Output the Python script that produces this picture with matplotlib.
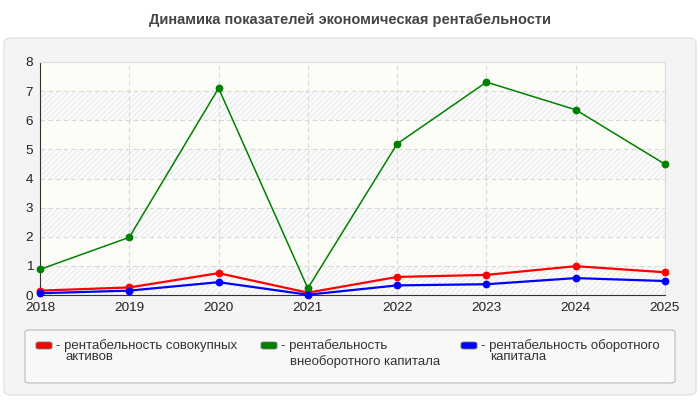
import numpy as np
import matplotlib.pyplot as plt
from matplotlib.patches import FancyBboxPatch

plt.rcParams["font.family"] = ["Liberation Sans", "DejaVu Sans"]
plt.rcParams["hatch.linewidth"] = 0.6

years = [2018, 2019, 2020, 2021, 2022, 2023, 2024, 2025]
assets_total = [0.15, 0.26, 0.75, 0.08, 0.62, 0.69, 0.99, 0.78]
assets_fixed = [0.88, 1.98, 7.10, 0.23, 5.19, 7.31, 6.36, 4.49]
assets_current = [0.06, 0.15, 0.44, 0.01, 0.33, 0.37, 0.58, 0.48]

series = [
    (assets_total, "#ff0000", 1.6, ["- рентабельность совокупных", "активов"]),
    (assets_fixed, "#008000", 1.1, ["- рентабельность", "внеоборотного капитала"]),
    (assets_current, "#0000ff", 1.6, ["- рентабельность оборотного", "капитала"]),
]

W, H = 700, 400
fig = plt.figure(figsize=(7, 4), dpi=100, facecolor="white")

# outer grey panel (behind the axes)
fig.patches.append(FancyBboxPatch((4 / W, 5 / H), 692 / W, 357 / H,
                                  boxstyle="round,pad=0,rounding_size=0.012",
                                  transform=fig.transFigure, facecolor="#f4f4f4",
                                  edgecolor="#e2e2e2", linewidth=1, zorder=-2))

fig.text(0.5, 1 - 20 / H, "Динамика показателей экономическая рентабельности",
         ha="center", va="center", fontsize=10.5, fontweight="bold", color="#444444")

ax = fig.add_axes([40 / W, 105 / H, 625 / W, 233 / H])
ax.set_facecolor("#fdfdf7")
# alternating bands: hatched / plain
for lo in range(0, 8, 2):
    ax.axhspan(lo, lo + 1, facecolor="#fbfbfb", edgecolor="#e6e6e6",
               hatch="//////", linewidth=0, zorder=0)

for vals, color, lw, _ in series:
    ax.plot(years, vals, color=color, linewidth=lw, marker="o",
            markersize=4.6, zorder=3, clip_on=False)

ax.set_xlim(2018, 2025)
ax.set_ylim(0, 8)
ax.set_xticks(years)
ax.set_yticks(range(9))
ax.tick_params(labelsize=9.7, colors="#222222", length=0, pad=5)
ax.grid(True, linestyle=(0, (4, 3)), color="#d8d8d8", linewidth=0.8, zorder=1)
for side in ("top", "right"):
    ax.spines[side].set_color("#dddddd")
for side in ("left", "bottom"):
    ax.spines[side].set_color("#333333")

# legend box
fig.patches.append(FancyBboxPatch((25 / W, 17 / H), 650 / W, 53 / H,
                                  boxstyle="round,pad=0,rounding_size=0.006",
                                  transform=fig.transFigure, facecolor="#f8f8f8",
                                  edgecolor="#bbbbbb", linewidth=0.8, zorder=-1))

patch_x = [36, 261, 461]
second_y = [357.5, 361.5, 357.5]
for (vals, color, lw, lines), px, sy in zip(series, patch_x, second_y):
    fig.patches.append(FancyBboxPatch((px / W, (H - 349) / H), 16 / W, 7 / H,
                                      boxstyle="round,pad=0,rounding_size=0.004",
                                      transform=fig.transFigure, facecolor=color,
                                      edgecolor="#777777", linewidth=0.6))
    fig.text((px + 20) / W, 1 - 345.5 / H, lines[0], ha="left", va="center",
             fontsize=9.5, color="#333333")
    fig.text((px + 29) / W, 1 - sy / H, lines[1], ha="left", va="center",
             fontsize=9.5, color="#333333")

fig.savefig("out.png", dpi=100, facecolor="white")
